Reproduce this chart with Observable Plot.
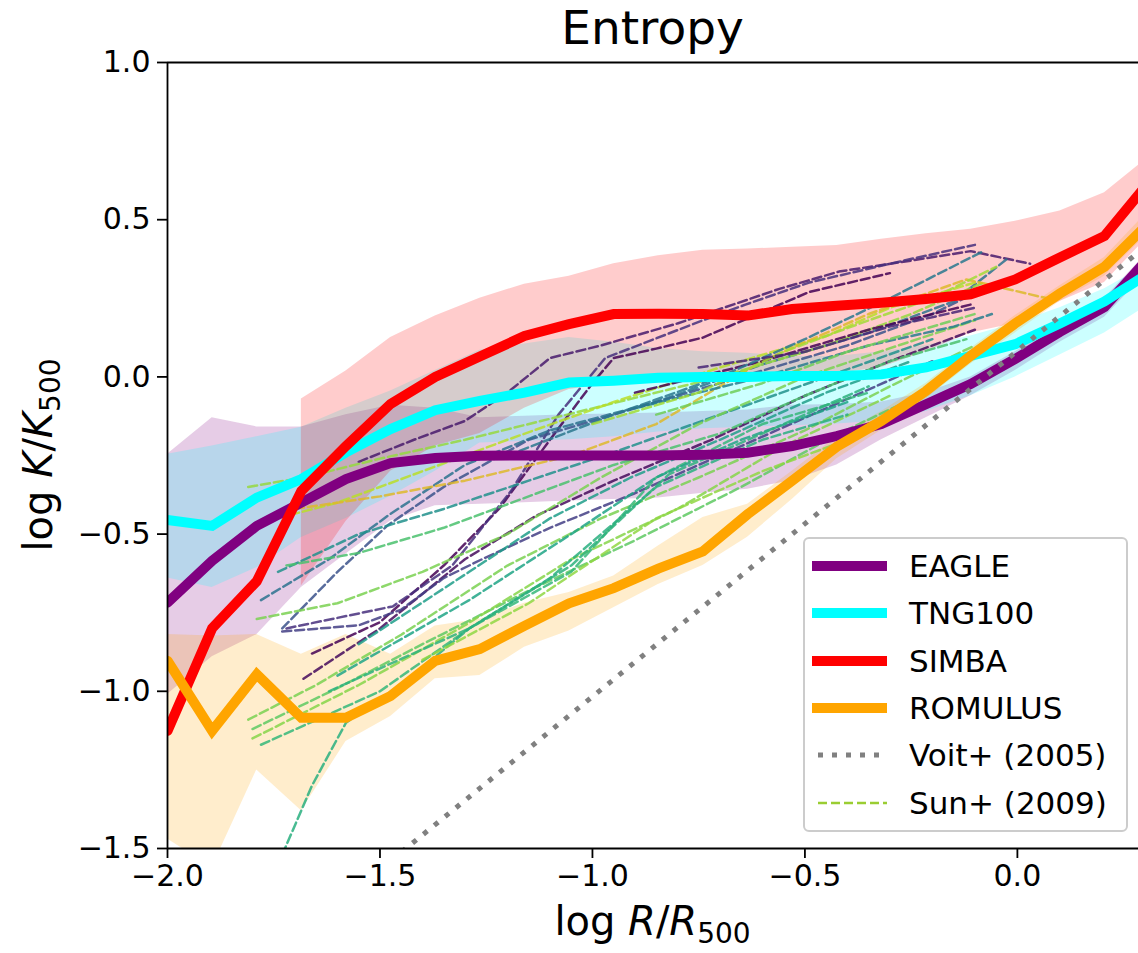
<!DOCTYPE html>
<html>
<head>
<meta charset="utf-8">
<script src="https://cdn.jsdelivr.net/npm/d3@7"></script>
<script src="https://cdn.jsdelivr.net/npm/@observablehq/plot@0.6"></script>
<style>
  html, body { margin: 0; padding: 0; background: #fff; }
  body { font-family: "DejaVu Sans", sans-serif; }
  #wrap { position: relative; width: 1138px; height: 953px; overflow: hidden; }
  #title { position: absolute; left: 167px; width: 971px; top: 2px; text-align: center; font-size: 47px; line-height: 52px; z-index: 2; }
  #chart { position: absolute; left: 0; top: 22px; }
  .lab { position: absolute; font-size: 40px; white-space: nowrap; }
  .lab sub { font-size: 28px; vertical-align: -8px; line-height: 0; }
  #xlab { left: 167px; width: 971px; top: 898px; text-align: center; }
  #ylab { left: 38px; top: 455px; transform: translate(-50%, -50%) rotate(-90deg); }
  #legend { position: absolute; left: 803px; top: 537px; width: 321px; height: 291px;
            border: 2px solid #cccccc; border-radius: 6px; background: rgba(255,255,255,0.8); }
  .row { position: absolute; left: 0; height: 40px; width: 320px; }
  .row svg { position: absolute; left: 0; top: 0; }
  .row span { position: absolute; left: 104px; top: 0; font-size: 31px; line-height: 40px; }
</style>
</head>
<body>
<div id="wrap">
  <div id="chart"></div>
  <div id="title">Entropy</div>
  <div class="lab" id="xlab">log <i>R</i>/<i>R</i><sub>500</sub></div>
  <div class="lab" id="ylab">log <i>K</i>/<i>K</i><sub>500</sub></div>
  <div id="legend"></div>
</div>
<script>
// ---------- data ----------
const rGrid = [-2.0,-1.895,-1.79,-1.685,-1.58,-1.475,-1.37,-1.265,-1.16,-1.055,-0.95,-0.845,-0.74,-0.635,-0.53,-0.425,-0.32,-0.215,-0.11,-0.005,0.1,0.205,0.31];

const eagleMed = [-0.718,-0.585,-0.474,-0.40,-0.325,-0.274,-0.258,-0.251,-0.25,-0.25,-0.25,-0.25,-0.248,-0.241,-0.22,-0.188,-0.15,-0.087,-0.023,0.057,0.143,0.222,0.38];
const eagleLo  = [-1.01,-0.89,-0.82,-0.67,-0.563,-0.458,-0.41,-0.405,-0.40,-0.395,-0.39,-0.385,-0.37,-0.357,-0.33,-0.28,-0.2,-0.13,-0.06,0.02,0.11,0.19,0.34];
const eagleHi  = [-0.246,-0.13,-0.159,-0.159,-0.12,-0.09,-0.1,-0.13,-0.125,-0.12,-0.118,-0.115,-0.11,-0.105,-0.09,-0.088,-0.08,-0.05,0.0,0.08,0.17,0.25,0.40];

const tngMed = [-0.455,-0.474,-0.384,-0.325,-0.24,-0.166,-0.106,-0.076,-0.05,-0.018,-0.012,-0.003,0.0,0.0,0.003,0.003,0.008,0.03,0.067,0.104,0.17,0.24,0.33];
const tngLo  = [-0.64,-0.67,-0.607,-0.511,-0.45,-0.38,-0.3,-0.21,-0.205,-0.2,-0.19,-0.175,-0.165,-0.16,-0.155,-0.15,-0.14,-0.11,-0.06,0.0,0.07,0.14,0.23];
const tngHi  = [-0.246,-0.22,-0.19,-0.16,-0.10,-0.045,0.02,0.085,0.105,0.125,0.11,0.09,0.08,0.075,0.065,0.065,0.08,0.1,0.13,0.17,0.22,0.28,0.36];

const simbaMed = [-1.126,-0.80,-0.65,-0.363,-0.22,-0.086,0.0,0.065,0.13,0.168,0.20,0.201,0.20,0.195,0.216,0.226,0.236,0.248,0.263,0.31,0.38,0.448,0.62];
const simbaLo  = [null,null,null,-0.665,-0.46,-0.3,-0.22,-0.18,-0.1,-0.04,-0.02,-0.01,0.0,0.0,0.0,0.01,0.03,0.08,0.14,0.17,0.24,0.30,0.45];
const simbaHi  = [null,null,null,-0.07,0.019,0.125,0.194,0.25,0.295,0.32,0.36,0.385,0.403,0.407,0.412,0.418,0.438,0.455,0.47,0.495,0.528,0.586,0.70];

const romMed = [-0.903,-1.126,-0.946,-1.084,-1.084,-1.015,-0.903,-0.866,-0.792,-0.72,-0.672,-0.61,-0.555,-0.437,-0.33,-0.222,-0.14,-0.045,0.067,0.17,0.265,0.35,0.49];
const romLo  = [-1.47,-1.56,-1.25,-1.38,-1.16,-1.08,-0.96,-0.95,-0.86,-0.808,-0.734,-0.66,-0.60,-0.51,-0.39,-0.26,-0.17,-0.07,0.04,0.14,0.24,0.32,0.46];
const romHi  = [-0.819,-0.824,-0.819,-0.882,-0.819,-0.882,-0.792,-0.771,-0.72,-0.686,-0.633,-0.538,-0.447,-0.405,-0.30,-0.19,-0.11,-0.02,0.09,0.195,0.29,0.38,0.53];

const voitX = [-1.5, 0.3];
const voitY = [-1.567, 0.413];

const sunLines = [
  {c:"#440154", p:[[-1.66,-0.88],[-1.5,-0.78],[-1.35,-0.6],[-1.22,-0.42],[-1.1,-0.2],[-1.0,-0.02],[-0.95,0.06],[-0.85,0.09],[-0.74,0.125],[-0.49,0.27],[-0.3,0.33]]},
  {c:"#481a6c", p:[[-1.55,-0.27],[-1.42,-0.2],[-1.3,-0.14],[-1.2,-0.05],[-1.1,0.06],[-0.98,0.1],[-0.8,0.17],[-0.56,0.28],[-0.42,0.335],[-0.25,0.37],[-0.11,0.40],[0.03,0.36]]},
  {c:"#472f7d", p:[[-1.72,-0.80],[-1.47,-0.73],[-1.33,-0.6],[-1.19,-0.36],[-1.08,-0.12],[-0.97,0.06],[-0.74,0.18],[-0.64,0.23],[-0.49,0.30],[-0.3,0.36],[-0.1,0.42]]},
  {c:"#3b528b", p:[[-1.73,-0.80],[-1.6,-0.62],[-1.48,-0.47],[-1.35,-0.35],[-1.15,-0.2],[-0.9,-0.1],[-0.65,0.0],[-0.4,0.1],[-0.2,0.2],[-0.05,0.3]]},
  {c:"#2c728e", p:[[-1.78,-0.71],[-1.62,-0.58],[-1.48,-0.44],[-1.3,-0.28],[-1.1,-0.17],[-0.85,-0.08],[-0.6,0.04],[-0.35,0.14],[-0.15,0.24],[-0.02,0.38]]},
  {c:"#21918c", p:[[-1.74,-0.62],[-1.55,-0.5],[-1.35,-0.42],[-1.15,-0.33],[-0.95,-0.24],[-0.7,-0.12],[-0.45,0.0],[-0.2,0.12]]},
  {c:"#450a5c", p:[[-1.68,-0.96],[-1.5,-0.8],[-1.3,-0.58],[-1.13,-0.44],[-0.95,-0.33],[-0.72,-0.2],[-0.5,-0.06],[-0.3,0.05],[-0.1,0.15]]},
  {c:"#433e85", p:[[-1.73,-0.81],[-1.55,-0.79],[-1.45,-0.74],[-1.35,-0.64],[-1.26,-0.58],[-1.1,-0.48],[-0.9,-0.37],[-0.7,-0.25],[-0.45,-0.1],[-0.2,0.05]]},
  {c:"#95d840", p:[[-1.81,-0.35],[-1.68,-0.32],[-1.5,-0.26],[-1.3,-0.2],[-1.0,-0.1],[-0.7,0.0],[-0.45,0.1],[-0.25,0.2],[-0.08,0.3]]},
  {c:"#b8de29", p:[[-1.8,-0.47],[-1.6,-0.4],[-1.4,-0.3],[-1.2,-0.2],[-0.95,-0.08],[-0.7,0.03],[-0.45,0.13],[-0.3,0.22],[-0.1,0.3]]},
  {c:"#ddb82a", p:[[-1.7,-0.42],[-1.5,-0.38],[-1.3,-0.33],[-1.05,-0.25],[-0.85,-0.15],[-0.6,0.05],[-0.35,0.2],[-0.12,0.31],[0.07,0.25]]},
  {c:"#7ad151", p:[[-1.79,-0.77],[-1.6,-0.72],[-1.4,-0.62],[-1.2,-0.5],[-0.98,-0.32],[-0.75,-0.15],[-0.5,0.0],[-0.28,0.1],[-0.1,0.18]]},
  {c:"#4ac16d", p:[[-1.72,-0.6],[-1.55,-0.56],[-1.35,-0.48],[-1.15,-0.38],[-0.95,-0.28],[-0.7,-0.18],[-0.5,-0.06],[-0.3,0.05],[-0.12,0.12]]},
  {c:"#7ad151", p:[[-1.81,-1.09],[-1.65,-0.98],[-1.45,-0.82],[-1.2,-0.6],[-0.98,-0.45],[-0.75,-0.32],[-0.5,-0.17],[-0.3,-0.03],[-0.1,0.1]]},
  {c:"#5ec962", p:[[-1.80,-1.12],[-1.6,-0.99],[-1.4,-0.85],[-1.15,-0.68],[-0.9,-0.52],[-0.65,-0.35],[-0.42,-0.18],[-0.2,-0.04]]},
  {c:"#86d549", p:[[-1.80,-1.15],[-1.55,-0.98],[-1.3,-0.79],[-1.05,-0.58],[-0.8,-0.42],[-0.55,-0.22],[-0.3,-0.06]]},
  {c:"#35b779", p:[[-1.78,-1.17],[-1.5,-1.0],[-1.29,-0.8],[-1.05,-0.62],[-0.85,-0.32],[-0.6,-0.15],[-0.35,-0.05]]},
  {c:"#29af7f", p:[[-1.73,-1.52],[-1.66,-1.3],[-1.58,-1.1],[-1.45,-0.98],[-1.29,-0.8],[-1.1,-0.64],[-0.85,-0.35],[-0.6,-0.2],[-0.4,-0.12]]},
  {c:"#1f9e89", p:[[-1.55,-0.85],[-1.29,-0.62],[-1.1,-0.45],[-0.91,-0.32],[-0.7,-0.2],[-0.45,-0.05],[-0.25,0.05]]},
  {c:"#20a486", p:[[-1.6,-0.95],[-1.29,-0.71],[-1.05,-0.5],[-0.85,-0.32],[-0.65,-0.2],[-0.4,-0.08]]},
  {c:"#2db27d", p:[[-1.62,-1.0],[-1.29,-0.8],[-1.05,-0.6],[-0.82,-0.31],[-0.6,-0.18],[-0.35,-0.03]]},
  {c:"#90d743", p:[[-1.4,-0.9],[-1.15,-0.72],[-0.85,-0.45],[-0.6,-0.3],[-0.4,-0.2],[-0.2,-0.08]]},
  {c:"#440154", p:[[-0.9,-0.05],[-0.6,0.05],[-0.35,0.15],[-0.11,0.23]]},
  {c:"#287d8e", p:[[-0.9,-0.1],[-0.6,0.0],[-0.35,0.1],[-0.15,0.16],[-0.06,0.2]]},
  {c:"#2a788e", p:[[-1.2,-0.25],[-0.95,-0.12],[-0.7,0.0],[-0.5,0.12],[-0.3,0.25],[-0.08,0.40]]},
  {c:"#a2da37", p:[[-1.0,-0.15],[-0.75,-0.05],[-0.55,0.08],[-0.35,0.18],[-0.2,0.25],[-0.05,0.35]]},
  {c:"#6ece58", p:[[-0.85,-0.12],[-0.6,-0.02],[-0.4,0.08],[-0.25,0.14],[-0.1,0.2]]},
  {c:"#482475", p:[[-0.75,0.03],[-0.5,0.08],[-0.3,0.16],[-0.1,0.22]]}
];

const sims = [
  {name:"EAGLE",   color:"#800080", med:eagleMed, lo:eagleLo, hi:eagleHi},
  {name:"TNG100",  color:"#00ffff", med:tngMed,   lo:tngLo,   hi:tngHi},
  {name:"SIMBA",   color:"#ff0000", med:simbaMed, lo:simbaLo, hi:simbaHi},
  {name:"ROMULUS", color:"#ffa500", med:romMed,   lo:romLo,   hi:romHi}
];

// ---------- build tables ----------
const bandMarks = sims.map(s => {
  const rows = rGrid.map((x, i) => ({x, lo: s.lo[i], hi: s.hi[i]})).filter(d => d.lo != null && d.hi != null);
  return Plot.areaY(rows, {x: "x", y1: "lo", y2: "hi", fill: s.color, fillOpacity: 0.2, clip: true});
});
const lineMarks = sims.map(s => {
  const rows = rGrid.map((x, i) => ({x, y: s.med[i]}));
  return Plot.line(rows, {x: "x", y: "y", stroke: s.color, strokeWidth: 10, strokeLinejoin: "miter", strokeMiterlimit: 3, clip: true});
});
const sunRows = sunLines.flatMap((l, k) => l.p.map(([x, y]) => ({x, y, k, c: l.c})));
const voitRows = voitX.map((x, i) => ({x, y: voitY[i]}));

const fmt = d3.format(".1f");
const chart = Plot.plot({
  width: 1138,
  height: 931,
  marginTop: 40,
  marginLeft: 167,
  marginRight: 0,
  marginBottom: 105,
  style: {fontFamily: "DejaVu Sans, sans-serif", background: "transparent"},
  x: {domain: [-2, 0.285]},
  y: {domain: [-1.5, 1.0]},
  marks: [
    ...bandMarks,
    Plot.line(sunRows, {x: "x", y: "y", z: "k", stroke: "c", strokeWidth: 2.5, strokeDasharray: "9,4", strokeOpacity: 0.85, clip: true}),
    ...lineMarks,
    Plot.line(voitRows, {x: "x", y: "y", stroke: "#808080", strokeWidth: 5, strokeDasharray: "5,9", strokeLinecap: "butt", clip: true}),
    Plot.ruleX([-2], {stroke: "#000", strokeWidth: 1.8}),
    Plot.ruleY([-1.5], {stroke: "#000", strokeWidth: 1.8}),
    Plot.ruleY([1.0], {stroke: "#000", strokeWidth: 1.8}),
    Plot.axisX({ticks: [-2, -1.5, -1, -0.5, 0], tickFormat: fmt, tickSize: 10, tickPadding: 6, fontSize: 30, label: null, strokeWidth: 1.8, color: "#000"}),
    Plot.axisY({ticks: [-1.5, -1, -0.5, 0, 0.5, 1], tickFormat: fmt, tickSize: 10, tickPadding: 7, fontSize: 30, label: null, strokeWidth: 1.8, color: "#000"})
  ]
});
document.getElementById("chart").appendChild(chart);

// ---------- legend ----------
const legendItems = [
  {label: "EAGLE", color: "#800080", w: 10, dash: null},
  {label: "TNG100", color: "#00ffff", w: 10, dash: null},
  {label: "SIMBA", color: "#ff0000", w: 10, dash: null},
  {label: "ROMULUS", color: "#ffa500", w: 10, dash: null},
  {label: "Voit+ (2005)", color: "#808080", w: 5, dash: "5,9"},
  {label: "Sun+ (2009)", color: "#9acd32", w: 2.5, dash: "9,4"}
];
const leg = document.getElementById("legend");
legendItems.forEach((it, i) => {
  const row = document.createElement("div");
  row.className = "row";
  row.style.top = (7 + i * 47.3) + "px";
  const x1 = it.dash ? 13 : 7;
  row.innerHTML = `<svg width="90" height="40"><line x1="${x1}" x2="82" y1="20" y2="20" stroke="${it.color}" stroke-width="${it.w}" ${it.dash ? `stroke-dasharray="${it.dash}"` : ""}/></svg><span>${it.label}</span>`;
  leg.appendChild(row);
});
</script>
</body>
</html>
